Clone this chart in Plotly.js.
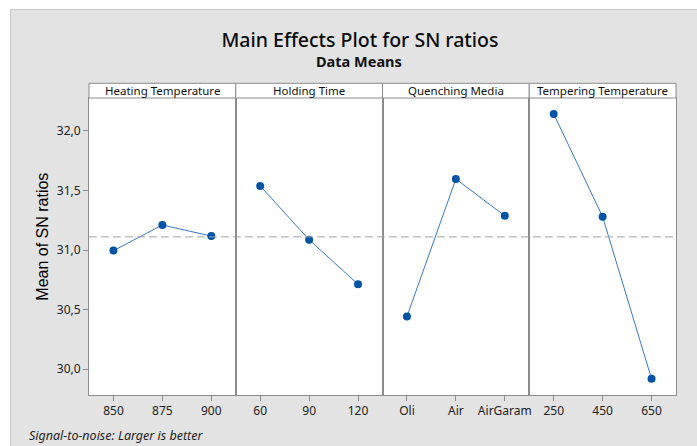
<!DOCTYPE html>
<html>
<head>
<meta charset="utf-8">
<script src="https://cdn.plot.ly/plotly-3.0.1.min.js"></script>
<style>
  html, body { margin: 0; padding: 0; background: #ffffff; width: 697px; height: 446px; overflow: hidden; }
  #chart { position: absolute; left: 10px; top: 9px; width: 686px; height: 436px;
           border-left: 1px solid #c8c8c8; border-top: 1px solid #c8c8c8; }
</style>
</head>
<body>
<div id="chart"></div>
<script>
// ---- data ----
const factorNames = ["Heating Temperature", "Holding Time", "Quenching Media", "Tempering Temperature"];
const heatingLevels = ["850", "875", "900"];
const heatingMeans = [30.995, 31.21, 31.117];
const holdingLevels = ["60", "90", "120"];
const holdingMeans = [31.538, 31.086, 30.712];
const quenchingLevels = ["Oli", "Air", "AirGaram"];
const quenchingMeans = [30.442, 31.596, 31.287];
const temperingLevels = ["250", "450", "650"];
const temperingMeans = [32.142, 31.279, 29.919];
const yTickVals = [30.0, 30.5, 31.0, 31.5, 32.0];

const levelSets = [heatingLevels, holdingLevels, quenchingLevels, temperingLevels];
const meanSets = [heatingMeans, holdingMeans, quenchingMeans, temperingMeans];

const allMeans = [].concat(...meanSets);
const grandMean = allMeans.reduce((a, b) => a + b, 0) / allMeans.length;

const FONT = "Noto Sans, Open Sans, DejaVu Sans, sans-serif";
const AXC = "#8c8c8c";
const domains = [[0, 0.25], [0.25, 0.5], [0.5, 0.75], [0.75, 1]];
const headerTop = 1.0495;

const traces = levelSets.map((lv, i) => ({
  type: "scatter", mode: "lines+markers",
  x: lv, y: meanSets[i],
  xaxis: i === 0 ? "x" : "x" + (i + 1),
  yaxis: i === 0 ? "y" : "y" + (i + 1),
  line: { color: "#3a76c4", width: 1 },
  marker: { color: "#0053a5", size: 8 },
  hoverinfo: "x+y", showlegend: false
}));

const layout = {
  width: 686, height: 436,
  paper_bgcolor: "#e3e3e3", plot_bgcolor: "#ffffff",
  margin: { l: 78, r: 21, t: 88, b: 51 },
  separators: ", ",
  showlegend: false,
  font: { family: FONT, size: 12, color: "#222222" },
  title: {
    text: "Main Effects Plot for SN ratios",
    x: 0.5087, xref: "container", xanchor: "center",
    y: 0.931, yref: "container", yanchor: "middle",
    font: { family: FONT, size: 19.5, color: "#0a0a0a", weight: 500 }
  },
  shapes: [],
  annotations: []
};

for (let i = 0; i < 4; i++) {
  const xa = i === 0 ? "xaxis" : "xaxis" + (i + 1);
  const ya = i === 0 ? "yaxis" : "yaxis" + (i + 1);
  layout[xa] = {
    domain: domains[i], type: "category", range: [-0.5, 2.5],
    showline: true, mirror: true, linecolor: AXC, linewidth: 1,
    ticks: "outside", ticklen: 5, tickcolor: AXC,
    showgrid: false, zeroline: false,
    anchor: i === 0 ? "y" : "y" + (i + 1),
    tickfont: { family: FONT, size: 12, color: "#222222" }
  };
  layout[ya] = {
    range: [29.783, 32.276],
    showline: true, mirror: true, linecolor: AXC, linewidth: 1,
    showgrid: false, zeroline: false,
    anchor: i === 0 ? "x" : "x" + (i + 1),
    tickvals: yTickVals, tickformat: ".1f",
    ticks: i === 0 ? "outside" : "", ticklen: 5, tickcolor: AXC,
    showticklabels: i === 0,
    tickfont: { family: FONT, size: 12, color: "#222222" }
  };
  if (i > 0) layout[ya].matches = "y";
  // header strip
  layout.shapes.push({
    type: "rect", xref: "paper", yref: "paper",
    x0: domains[i][0], x1: domains[i][1], y0: 1, y1: headerTop,
    fillcolor: "#ffffff", line: { color: AXC, width: 1 }
  });
  layout.annotations.push({
    text: factorNames[i], xref: "paper", yref: "paper",
    x: (domains[i][0] + domains[i][1]) / 2, y: (1 + headerTop) / 2,
    xanchor: "center", yanchor: "middle", showarrow: false,
    font: { family: FONT, size: 11.5, color: "#111111" }
  });
}

// grand mean reference line
layout.shapes.push({
  type: "line", xref: "paper", yref: "y", x0: 0, x1: 1, y0: grandMean, y1: grandMean,
  line: { color: "#a3a3a3", width: 1, dash: "8px,4px" }, layer: "above"
});

layout.annotations.push(
  { text: "<b>Data Means</b>", xref: "paper", yref: "paper", x: 0.4608, y: 1.1246,
    xanchor: "center", yanchor: "middle", showarrow: false,
    font: { family: FONT, size: 14.5, color: "#111111" } },
  { text: "Mean of SN ratios", xref: "paper", yref: "paper", x: -0.0789, y: 0.532,
    xanchor: "center", yanchor: "middle", showarrow: false, textangle: -90,
    font: { family: "Liberation Sans, Arial, sans-serif", size: 16, color: "#000000" } },
  { text: "<i>Signal-to-noise: Larger is better</i>", xref: "paper", yref: "paper",
    x: -0.106, y: -0.1347, xanchor: "left", yanchor: "middle", showarrow: false,
    font: { family: FONT, size: 12.5, color: "#222222" } }
);

Plotly.newPlot("chart", traces, layout, { displayModeBar: false, staticPlot: true });
</script>
</body>
</html>
